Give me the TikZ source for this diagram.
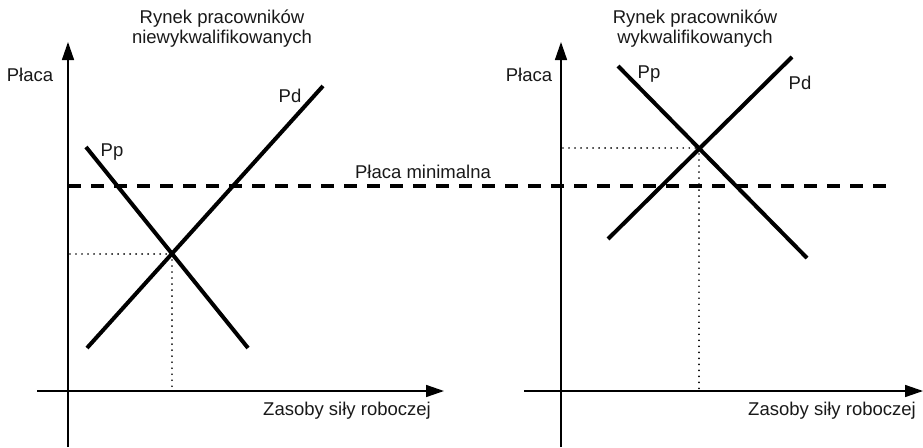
\documentclass[tikz,border=0pt]{standalone}
\usepackage{fontspec}
\setmainfont{Liberation Sans}
\usetikzlibrary{arrows.meta}

\begin{document}
\begin{tikzpicture}[x=1pt,y=-1pt,
  axis/.style={line width=1.5pt,-{Triangle[length=18pt,width=12pt]}},
  curve/.style={line width=4pt},
  guide/.style={line width=1.8pt,dash pattern=on 0.01pt off 6pt,line cap=round},
  minwage/.style={line width=4pt,dash pattern=on 13pt off 10pt},
  lbl/.style={inner sep=0pt,anchor=base,font=\fontsize{18.5pt}{20pt}\selectfont,text=black!90},
  title/.style={lbl,align=center}]
\useasboundingbox (0,0) rectangle (923,447);

% ---- left panel: unskilled workers ----
\coordinate (L0) at (68,447);
\coordinate (Ltop) at (68,42);
\coordinate (Lx0) at (37,391);
\coordinate (Lx1) at (444,391);
\draw[axis] (L0) -- (Ltop);
\draw[axis] (Lx0) -- (Lx1);

\coordinate (LdA) at (87,348);
\coordinate (LdB) at (323,86);
\coordinate (LpA) at (86,147);
\coordinate (LpB) at (248,348);
\draw[curve] (LdA) -- (LdB);
\draw[curve] (LpA) -- (LpB);

\coordinate (Leq) at (172,254);
\coordinate (LeqY) at (70,254);
\coordinate (LeqX) at (172,391);
\draw[guide] (LeqY) -- (Leq);
\draw[guide] (Leq) -- (LeqX);

% base of a two-line title is the baseline of its last line
\node[title] (Ltitle) at (222,43) {Rynek pracowników\\niewykwalifikowanych};
\node[lbl] (LwageLbl) at (30,81) {Płaca};
\node[lbl] (LdLbl) at (290,102) {Pd};
\node[lbl] (LpLbl) at (112,156) {Pp};
\node[lbl] (LqLbl) at (347,415) {Zasoby siły roboczej};

% ---- minimum wage ----
\coordinate (Mw0) at (68,186);
\coordinate (Mw1) at (895,186);
\draw[minwage] (Mw0) -- (Mw1);
\node[lbl] (MwLbl) at (423,178) {Płaca minimalna};

% ---- right panel: skilled workers ----
\coordinate (R0) at (561,447);
\coordinate (Rtop) at (561,42);
\coordinate (Rx0) at (524,391);
\coordinate (Rx1) at (923,391);
\draw[axis] (R0) -- (Rtop);
\draw[axis] (Rx0) -- (Rx1);

\coordinate (RdA) at (608,239);
\coordinate (RdB) at (792,57);
\coordinate (RpA) at (618,66);
\coordinate (RpB) at (807,258);
\draw[curve] (RdA) -- (RdB);
\draw[curve] (RpA) -- (RpB);

\coordinate (Req) at (699,148);
\coordinate (ReqY) at (563,148);
\coordinate (ReqX) at (699,391);
\draw[guide] (ReqY) -- (Req);
\draw[guide] (Req) -- (ReqX);

\node[title] (Rtitle) at (695,43) {Rynek pracowników\\wykwalifikowanych};
\node[lbl] (RwageLbl) at (529,81) {Płaca};
\node[lbl] (RdLbl) at (800,89) {Pd};
\node[lbl] (RpLbl) at (649,78) {Pp};
\node[lbl] (RqLbl) at (832,415) {Zasoby siły roboczej};
\end{tikzpicture}
\end{document}
